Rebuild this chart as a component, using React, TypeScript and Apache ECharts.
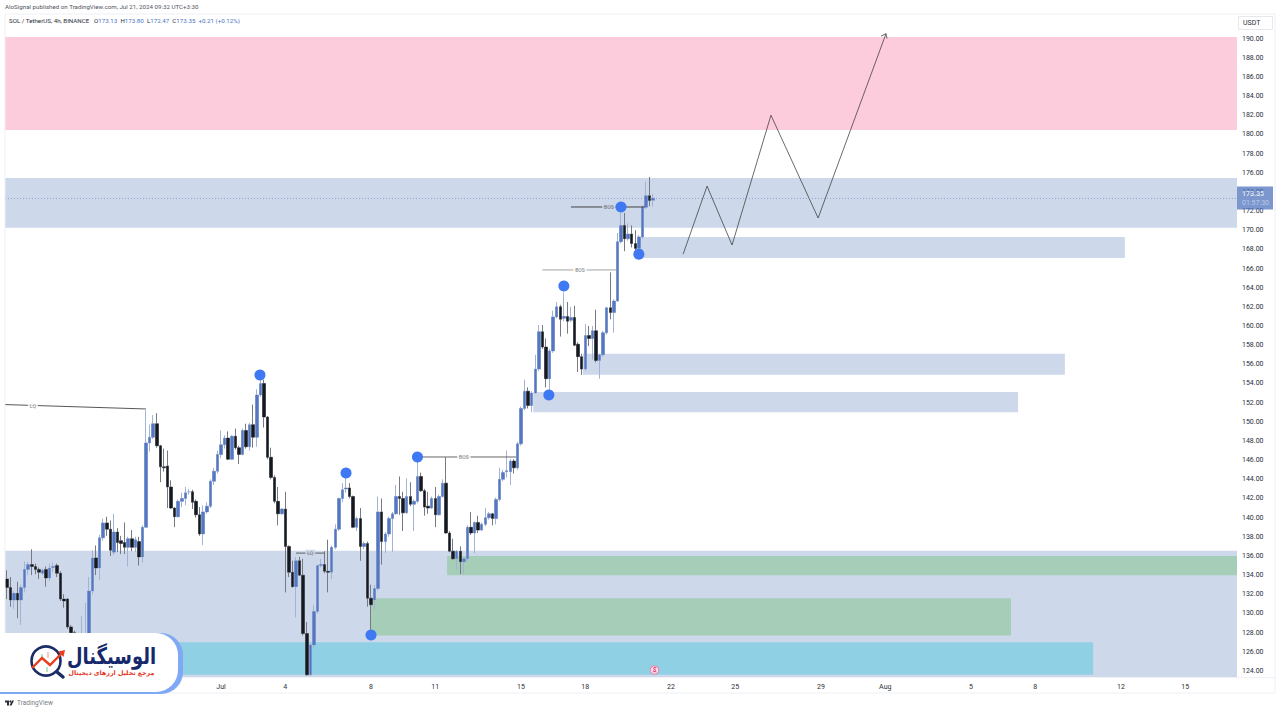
import React, { useEffect, useRef } from "react";
import * as echarts from "echarts";

// [open, close, low, high] per 4h candle
const juneCandlesA = [
  [133.6,132.7,131.5,134.5],[132.7,131.4,130.7,133.8],[131.4,132.1,130.5,132.3],[132.1,131.4,129.5,133.3],[131.4,132.7,128.8,133.0],
  [132.7,134.6,132.2,135.4],[134.6,135.1,134.0,135.4],[135.1,134.9,134.0,136.7],[134.9,134.6,134.1,135.2],[134.6,134.3,133.6,134.8],
  [134.2,134.5,134.0,134.7],[134.6,133.7,132.8,134.9],[133.7,134.75,133.4,135.2],[134.8,134.9,134.3,135.3],[135.0,134.2,133.8,135.2],
  [134.2,131.5,131.3,134.4],[131.5,131.3,130.6,132.0],[131.5,128.6,128.4,131.6],[128.6,128.0,127.2,128.8],[128.0,126.5,126.0,128.2],
  [126.5,127.0,126.0,127.4],[127.0,127.3,126.6,129.7],[127.3,127.6,127.0,131.1],[127.6,132.35,127.3,133.8],[132.35,135.8,132.0,136.6],
  [135.8,134.75,134.0,137.1],[134.75,137.9,133.5,138.2],[137.9,139.45,137.6,139.9],[139.45,138.8,138.1,140.1],[138.8,136.6,136.0,139.7],
];
const juneCandlesB = [
  [136.4,138.5,136.1,140.4],[138.5,137.4,136.4,138.9],[137.6,137.3,136.2,138.1],[137.4,136.9,136.2,139.5],[136.9,137.8,134.9,138.0],
  [137.8,136.9,136.5,138.7],[136.9,137.7,136.4,138.0],[137.5,135.9,135.0,138.0],[135.9,139.0,135.3,139.2],[139.0,147.8,138.9,151.2],
  [147.8,148.4,146.9,149.7],[148.4,149.8,148.2,150.7],[149.8,147.5,147.3,150.9],[147.5,145.3,143.7,147.6],[145.3,145.2,144.8,147.2],
  [145.4,143.2,141.0,147.0],[143.2,141.0,140.9,143.9],[141.0,140.1,139.0,141.1],[140.1,141.7,140.0,141.9],[141.7,142.0,141.1,142.6],
  [142.0,142.6,141.3,143.2],[142.7,142.7,142.4,143.0],[142.7,141.6,140.9,142.9],[141.7,140.3,140.0,141.9],[140.3,138.3,138.1,141.1],
  [138.3,140.6,137.15,141.3],[140.6,141.2,140.4,141.6],[141.2,143.8,141.0,144.0],[143.8,144.85,143.4,145.2],[144.85,146.6,144.6,147.0],
];
const julyCandlesA = [
  [146.6,147.6,146.2,149.1],[147.6,148.3,147.2,148.6],[148.3,146.1,146.0,149.0],[146.1,148.5,146.0,148.6],[148.5,147.3,147.1,149.3],
  [147.3,146.6,145.6,147.5],[146.6,149.1,146.5,149.3],[149.1,147.4,147.2,149.8],[147.4,149.7,147.0,149.9],[149.7,148.4,147.3,151.8],
  [148.4,152.8,147.4,153.4],[152.8,154.0,152.6,154.6],[154.0,150.5,149.4,154.4],[150.5,146.3,146.1,150.6],[146.3,144.2,144.0,147.3],
  [144.2,141.7,141.5,144.4],[141.7,140.4,139.2,143.2],[140.4,140.9,140.3,141.0],[140.9,137.0,132.2,142.7],[137.0,134.3,133.8,137.1],
  [134.3,132.8,132.7,135.5],[132.8,135.5,129.6,135.9],[135.5,134.0,133.9,135.9],[134.0,127.9,127.7,135.7],[127.9,123.6,123.5,129.1],
  [123.6,126.7,123.5,126.8],[126.7,130.2,126.4,130.9],[130.2,135.0,130.0,135.1],[135.0,135.1,134.8,135.7],[135.1,134.4,134.2,136.5],
];
const julyCandlesB = [
  [134.4,134.3,132.2,137.7],[134.3,136.9,133.6,137.1],[136.9,138.8,136.7,139.3],[138.8,142.0,138.6,142.1],[142.0,142.9,141.6,143.6],
  [143.0,143.1,142.6,144.2],[143.1,142.2,142.0,143.6],[142.2,139.0,138.9,142.3],[139.0,139.9,138.6,140.1],[139.9,137.0,135.5,141.0],
  [137.0,137.3,136.7,137.5],[137.3,131.6,130.7,137.5],[131.6,130.9,128.3,133.0],[131.4,132.6,130.4,133.0],[132.6,140.6,132.4,142.2],
  [140.6,137.5,135.1,142.0],[137.5,138.3,136.3,138.5],[138.3,139.9,138.0,140.1],[139.9,140.4,136.4,140.6],[140.4,142.2,140.3,143.4],
  [142.2,142.0,140.3,144.3],[142.0,140.5,138.6,142.7],[140.5,142.2,140.4,144.1],[142.2,141.4,141.2,143.7],[141.4,141.7,138.6,141.9],
  [141.7,144.3,141.5,145.8],[144.3,142.8,142.7,144.7],[142.8,141.1,140.2,143.0],[141.2,141.0,140.4,142.7],[141.0,142.0,140.9,142.2],
];
const julyCandlesC = [
  [142.0,140.3,139.0,143.2],[140.3,142.2,140.2,142.4],[142.2,143.6,142.1,144.0],[143.6,138.4,138.3,146.3],[138.4,136.5,136.4,138.6],
  [136.5,135.7,135.6,137.8],[135.7,136.5,134.6,136.6],[136.5,135.4,134.1,137.0],[135.4,135.7,134.1,135.8],[135.7,139.0,135.5,139.2],
  [139.0,138.4,138.2,140.6],[138.4,139.5,136.3,139.6],[139.5,138.7,138.4,140.2],[138.7,139.3,138.6,139.5],[139.3,140.0,139.1,141.0],
  [140.0,140.4,139.8,140.6],[140.4,139.9,139.2,140.5],[139.9,141.9,139.3,142.1],[141.9,144.0,141.7,145.2],[144.0,144.7,143.8,145.0],
  [144.8,144.9,144.2,147.0],[144.8,145.9,143.4,146.1],[145.9,145.2,144.6,146.1],[145.2,147.7,145.0,147.9],[147.7,151.4,147.5,151.6],
  [151.4,153.2,151.2,154.4],[153.2,151.7,151.4,153.6],[151.7,153.0,151.0,153.2],[153.0,155.5,152.9,157.0],[155.5,159.4,155.3,160.1],
];
const julyCandlesD = [
  [159.4,157.8,157.6,160.1],[157.8,154.5,153.6,158.7],[154.5,157.4,153.3,157.6],[157.4,160.95,157.2,161.6],[160.95,162.0,160.8,162.5],
  [162.0,160.7,158.9,162.2],[160.8,161.0,160.5,163.5],[161.0,160.5,159.2,162.5],[160.6,160.9,160.4,162.0],[160.9,158.0,157.9,162.1],
  [158.1,156.8,155.2,158.3],[156.8,155.5,154.9,157.1],[155.5,159.0,155.3,160.2],[159.0,158.7,157.9,160.0],[158.7,159.5,156.5,160.0],
  [159.5,156.4,156.2,161.7],[156.4,157.0,154.5,157.1],[157.0,159.3,156.8,159.5],[159.3,161.9,159.1,162.0],[161.9,161.4,160.7,165.6],
  [161.4,162.6,159.3,162.8],[162.6,168.8,162.5,169.7],[168.8,170.5,168.6,171.8],[170.5,169.1,167.8,171.8],[169.1,169.6,168.9,170.7],
  [169.6,168.6,168.2,170.5],[168.6,168.1,167.9,170.0],[168.1,169.3,167.9,169.5],[169.3,172.4,169.1,172.6],[172.4,173.6,172.2,175.05],
  [173.6,173.1,172.5,175.55],[173.13,173.35,172.47,173.8],
];
const candles = [...juneCandlesA, ...juneCandlesB, ...julyCandlesA, ...julyCandlesB, ...julyCandlesC, ...julyCandlesD];

const barSlots = 345;
const timeTickIndex = [60, 78, 102, 120, 144, 162, 186, 204, 228, 246, 270, 288, 312, 330];
const timeTickLabel = ["Jul", "4", "8", "11", "15", "18", "22", "25", "29", "Aug", "5", "8", "12", "15"];
const priceTicks = [124,126,128,130,132,134,136,138,140,142,144,146,148,150,152,154,156,158,160,162,164,166,168,170,172,174,176,178,180,182,184,186,188,190];

// zones: [bar from, bar to, price low, price high]
const zoneBox = [
  [-0.5, 344.5, 180.45, 190.15],
  [-0.5, 344.5, 170.25, 175.45],
  [-0.5, 344.5, 123.37, 136.55],
  [-0.5, 304.2, 123.6, 127.0],
  [123.3, 344.5, 134.0, 136.0],
  [102, 281.2, 127.7, 131.6],
  [177, 313.1, 167.1, 169.3],
  [161.3, 296.3, 154.9, 157.1],
  [147.4, 283.2, 151.0, 153.1],
];
const zoneFill = ["#fccbdc", "#cdd8ea", "#cdd8ea", "#8fd0e4", "#a6cdb8", "#a6cdb8", "#cdd8ea", "#cdd8ea", "#cdd8ea"];

const swingBars = [70.9, 95, 115, 156, 151.8, 172, 177, 102];
const swingPrices = [154.89, 144.66, 146.33, 164.18, 152.8, 172.42, 167.5, 127.76];

const forecastBars = [189.4, 196.1, 203.1, 214, 227.2, 246.2];
const forecastPrices = [167.5, 174.6, 168.45, 182.0, 171.27, 190.5];
const arrowBars = [244.8, 246.2, 246.5];
const arrowPrices = [190.25, 190.5, 190.0];

// structure notes: [bar from, price from, bar to, price to, label bar, label price]
const noteLines = [
  [-0.5, 151.8, 39, 151.34, 7.3, 151.7],
  [115, 146.33, 142.6, 146.33, 128, 146.33],
  [150, 165.85, 171, 165.85, 160.5, 165.85],
  [158, 172.42, 178.7, 172.42, 168.6, 172.42],
  [81, 136.3, 89, 136.3, 85, 136.3],
];
const noteText = ["LQ", "BOS", "BOS", "BOS", "LQ"];
const noteColor = ["#444444", "#555555", "#9a9a9a", "#333333", "#555555"];
const noteBack = ["#ffffff", "#ffffff", "#ffffff", "#cdd8ea", "#cdd8ea"];

const lastPrice = 173.35;
const countdown = "01:57:30";

const FONT = "Roboto, 'Liberation Sans', sans-serif";
const UP = "#5377c2";
const DOWN = "#15181f";

export default function App() {
  const ref = useRef<HTMLDivElement>(null);
  useEffect(() => {
    const chart = echarts.init(ref.current!, null, { renderer: "svg" });
    const noteSeries = noteLines.map((n, i) => ({
      type: "line", xAxisIndex: 1, yAxisIndex: 0, z: 4, symbol: "none", silent: true,
      lineStyle: { color: noteColor[i], width: 0.9 },
      data: [[n[0], n[1]], [n[2], n[3]]],
    }));
    const G = 100;
    const option: any = {
      animation: false,
      backgroundColor: "#ffffff",
      textStyle: { fontFamily: FONT },
      grid: { left: 5, right: 43, top: 14, bottom: 43, containLabel: false },
      xAxis: [
        {
          type: "category",
          data: Array.from({ length: barSlots }, (_, i) => String(i)),
          axisLine: { show: false },
          axisTick: { show: false },
          splitLine: { show: false },
          axisLabel: {
            interval: (i: number) => timeTickIndex.includes(i),
            formatter: (_: string, i: number) => timeTickLabel[timeTickIndex.indexOf(i)] ?? "",
            color: "#2a2e39", fontSize: 7, margin: 6, fontFamily: FONT, hideOverlap: false,
          },
        },
        { type: "value", min: -0.5, max: barSlots - 0.5, show: false },
      ],
      yAxis: {
        type: "value",
        position: "right",
        min: 123.37,
        max: 192.56,
        scale: true,
        axisLine: { show: false },
        axisTick: { show: false },
        splitLine: { show: false },
        axisLabel: {
          customValues: priceTicks,
          formatter: (v: number) => v.toFixed(2),
          color: "#2a2e39", fontSize: 7, margin: 5, fontFamily: FONT,
        },
      },
      series: [
        {
          type: "custom", xAxisIndex: 1, yAxisIndex: 0, z: 1, silent: true, clip: true,
          encode: { x: [0, 1], y: [2, 3] },
          data: zoneBox,
          renderItem: (params: any, api: any) => {
            const a = api.coord([api.value(0), api.value(3)]);
            const b = api.coord([api.value(1), api.value(2)]);
            return {
              type: "rect",
              shape: { x: a[0], y: a[1], width: b[0] - a[0], height: b[1] - a[1] },
              style: { fill: zoneFill[params.dataIndex] },
            };
          },
        },
        {
          type: "candlestick", xAxisIndex: 0, yAxisIndex: 0, z: 3, silent: true, barWidth: 3,
          itemStyle: { color: "#a3b3d6", color0: "#777a82", borderColor: "#a3b3d6", borderColor0: "#777a82", borderWidth: 1 },
          data: candles,
          markLine: {
            silent: true, symbol: "none", z: 6,
            lineStyle: { color: "#7f93bf", type: [1, 2], width: 1, opacity: 0.75 },
            label: {
              position: "end", distance: 0, backgroundColor: "#4f74bd", padding: [3, 3, 2, 5], width: 28,
              formatter: `{a|${lastPrice.toFixed(2)}}\n{b|${countdown}}`,
              rich: {
                a: { color: "#ffffff", fontSize: 7, fontWeight: "bold", fontFamily: FONT, lineHeight: 9, align: "left" },
                b: { color: "#d5def2", fontSize: 7, fontFamily: FONT, lineHeight: 9, align: "left" },
              },
            },
            data: [{ yAxis: lastPrice }],
          },
        },
        {
          type: "candlestick", xAxisIndex: 0, yAxisIndex: 0, z: 3, silent: true, barWidth: 3,
          itemStyle: { color: UP, color0: DOWN, borderColor: UP, borderColor0: DOWN, borderWidth: 0 },
          data: candles,
        },
        ...noteSeries,
        {
          type: "scatter", xAxisIndex: 1, yAxisIndex: 0, z: 4, silent: true, symbolSize: 0,
          data: noteLines.map((n, i) => ({
            value: [n[4], n[5]],
            label: {
              show: true, position: "inside", formatter: noteText[i], fontSize: 5, color: "#555555",
              backgroundColor: noteBack[i], padding: [1, 2], fontFamily: FONT,
            },
          })),
        },
        {
          type: "line", xAxisIndex: 1, yAxisIndex: 0, z: 5, symbol: "none", silent: true,
          lineStyle: { color: "#444444", width: 0.8 },
          data: forecastBars.map((b, i) => [b, forecastPrices[i]]),
        },
        {
          type: "line", xAxisIndex: 1, yAxisIndex: 0, z: 5, symbol: "none", silent: true,
          lineStyle: { color: "#444444", width: 0.8 },
          data: arrowBars.map((b, i) => [b, arrowPrices[i]]),
        },
        {
          type: "scatter", xAxisIndex: 1, yAxisIndex: 0, z: 5, silent: true, symbolSize: 11,
          itemStyle: { color: "#3f78f3", opacity: 1 },
          data: swingBars.map((b, i) => [b, swingPrices[i]]),
        },
      ],
      graphic: [
        // page frame
        { type: "rect", z: G, silent: true, shape: { x: 5, y: 14, width: 1270, height: 679 }, style: { fill: "none", stroke: "#eef0f5", lineWidth: 1 } },
        { type: "line", z: G, silent: true, shape: { x1: 5, y1: 677.5, x2: 1275, y2: 677.5 }, style: { stroke: "#f0f2f7", lineWidth: 1 } },
        { type: "rect", z: G, silent: true, shape: { x: 1238.5, y: 16.5, width: 34, height: 13 }, style: { fill: "#ffffff", stroke: "#e6e8ee", lineWidth: 1 } },
        { type: "text", z: G, silent: true, style: { x: 1243, y: 23, text: "USDT", fontSize: 7, fill: "#2a2e39", fontFamily: FONT, verticalAlign: "middle" } },
        // header
        { type: "text", z: G, silent: true, style: { x: 5, y: 7, text: "AloSignal published on TradingView.com, Jul 21, 2024 09:32 UTC+3:30", fontSize: 6.2, fill: "#50535e", fontFamily: FONT, verticalAlign: "middle" } },
        {
          type: "text", z: G, silent: true,
          style: {
            x: 9, y: 21, verticalAlign: "middle", fontFamily: FONT, fontSize: 6.2, fill: "#2a2e39",
            text: "{n|SOL / TetherUS, 4h, BINANCE}   {n|O}{v|173.13}  {n|H}{v|173.80}  {n|L}{v|172.47}  {n|C}{v|173.35}  {v|+0.21 (+0.12%)}",
            rich: {
              n: { fontSize: 6.2, fill: "#2a2e39", fontFamily: FONT },
              v: { fontSize: 6.2, fill: "#4e74bf", fontFamily: FONT },
            },
          },
        },
        // news marker
        { type: "circle", z: G, silent: true, shape: { cx: 654.5, cy: 670, r: 4.2 }, style: { fill: "#fbe3ec", stroke: "#e88fb2", lineWidth: 1.2 } },
        { type: "text", z: G, silent: true, style: { x: 654.5, y: 670, text: "$", fontSize: 6.5, fontWeight: "bold", fill: "#d8397a", align: "center", verticalAlign: "middle", fontFamily: FONT } },
        // logo card
        { type: "rect", z: G, silent: true, shape: { x: -20, y: 633, width: 203, height: 61, r: 22 }, style: { fill: "#7fa8f5" } },
        { type: "rect", z: G, silent: true, shape: { x: -20, y: 633, width: 198, height: 59, r: 22 }, style: { fill: "#ffffff" } },
        { type: "circle", z: G, silent: true, shape: { cx: 46, cy: 661, r: 14.5 }, style: { fill: "#ffffff", stroke: "#1b2c66", lineWidth: 2.6 } },
        { type: "rect", z: G, silent: true, shape: { x: 41, y: 654, width: 2, height: 6 }, style: { fill: "#bfe3c8" } },
        { type: "rect", z: G, silent: true, shape: { x: 47, y: 652, width: 2, height: 6 }, style: { fill: "#f6c9c4" } },
        { type: "rect", z: G, silent: true, shape: { x: 46, y: 667, width: 2, height: 5 }, style: { fill: "#bfe3c8" } },
        { type: "line", z: G, silent: true, shape: { x1: 57, y1: 672, x2: 63, y2: 677 }, style: { stroke: "#1b2c66", lineWidth: 3.5, lineCap: "round" } },
        { type: "polyline", z: G, silent: true, shape: { points: [[32, 668], [42, 658], [50, 665], [63, 652]] }, style: { fill: "none", stroke: "#e8401f", lineWidth: 2.4 } },
        { type: "polygon", z: G, silent: true, shape: { points: [[65, 650], [58, 651.5], [63.5, 657]] }, style: { fill: "#e8401f" } },
        { type: "text", z: G, silent: true, x: 111.5, y: 656, scaleX: 0.78, style: { x: 0, y: 0, text: "الوسیگنال", fontSize: 23, fontWeight: "bold", fill: "#14286b", align: "center", verticalAlign: "middle", fontFamily: "'DejaVu Sans', 'Noto Sans'" } },
        { type: "text", z: G, silent: true, style: { x: 111.5, y: 672.5, text: "مرجع تحلیل ارزهای دیجیتال", fontSize: 6.3, fontWeight: "bold", fill: "#e3341c", align: "center", verticalAlign: "middle", fontFamily: "'DejaVu Sans', 'Noto Sans'" } },
        // footer
        { type: "polygon", z: G, silent: true, shape: { points: [[5, 700.5], [9, 700.5], [9, 705.5], [7, 705.5], [7, 702.5], [5, 702.5]] }, style: { fill: "#2a2e39" } },
        { type: "circle", z: G, silent: true, shape: { cx: 10.3, cy: 701.5, r: 1 }, style: { fill: "#2a2e39" } },
        { type: "polygon", z: G, silent: true, shape: { points: [[12, 700.5], [14, 700.5], [11.5, 705.5], [9.5, 705.5]] }, style: { fill: "#2a2e39" } },
        { type: "text", z: G, silent: true, style: { x: 17, y: 703, text: "TradingView", fontSize: 6.5, fill: "#787b86", fontFamily: FONT, verticalAlign: "middle" } },
      ],
    };
    chart.setOption(option);
    return () => chart.dispose();
  }, []);
  return <div ref={ref} style={{ position: "absolute", left: 0, top: 0, width: 1280, height: 720 }} />;
}
